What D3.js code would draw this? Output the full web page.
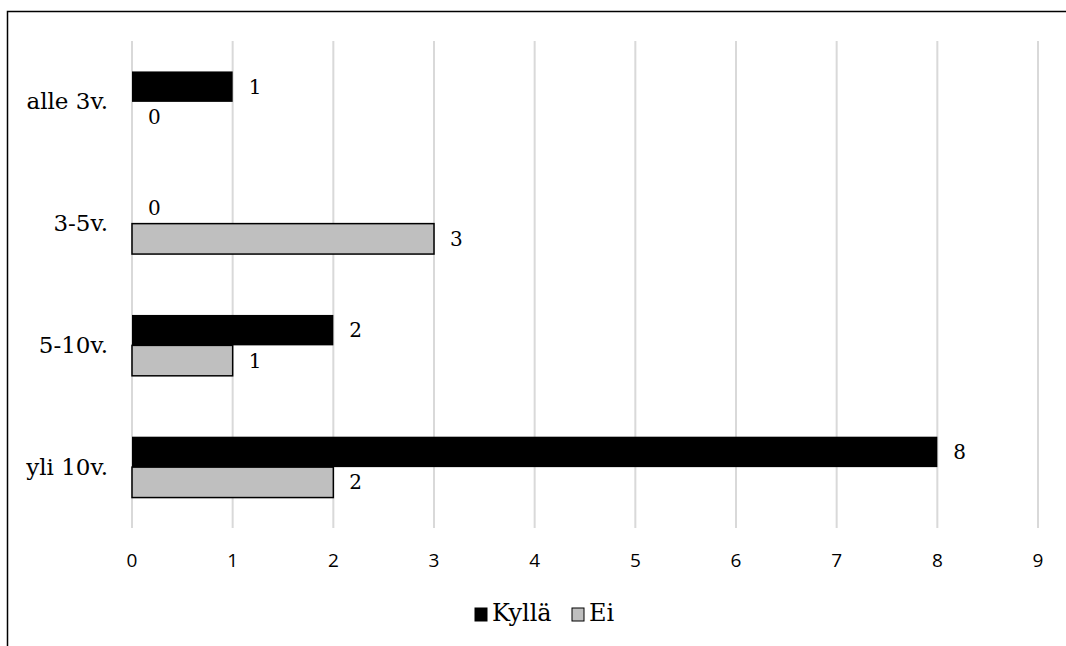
<!DOCTYPE html>
<html>
<head>
<meta charset="utf-8">
<script src="https://cdn.jsdelivr.net/npm/d3@7"></script>
<style>
  body { margin: 0; background: #fff; }
</style>
</head>
<body>
<div id="chart"></div>
<script>
const categories = ["alle 3v.", "3-5v.", "5-10v.", "yli 10v."];
const seriesNames = ["Kyllä", "Ei"];
const kylla = [1, 0, 2, 8];
const ei = [0, 3, 1, 2];
const ticks = [0, 1, 2, 3, 4, 5, 6, 7, 8, 9];

const width = 1066, height = 646;
const margin = { top: 41, left: 132, right: 28, bottom: 118 };
const serif = "'DejaVu Serif', Georgia, serif";
const sans = "'Open Sans', 'Liberation Sans', sans-serif";

const colors = { "Kyllä": "#000000", "Ei": "#bfbfbf" };

const svg = d3.select("#chart").append("svg")
    .attr("width", width)
    .attr("height", height);

// frame (only top and left edges visible in the crop)
svg.append("path")
    .attr("d", `M7.5,${height} V11.5 H${width}`)
    .attr("fill", "none")
    .attr("stroke", "#000")
    .attr("stroke-width", 1.5);

const x = d3.scaleLinear()
    .domain([0, 9])
    .range([margin.left, width - margin.right]);

const y = d3.scaleBand()
    .domain(categories)
    .range([margin.top, height - margin.bottom])
    .paddingInner(0.5)
    .paddingOuter(0.25);

const ySub = d3.scaleBand()
    .domain(seriesNames)
    .range([0, y.bandwidth()]);

// gridlines
svg.append("g").selectAll("line")
    .data(ticks)
    .enter().append("line")
    .attr("x1", d => x(d))
    .attr("x2", d => x(d))
    .attr("y1", margin.top)
    .attr("y2", height - margin.bottom)
    .attr("stroke", "#d9d9d9")
    .attr("stroke-width", 2);

// tick labels
svg.append("g").selectAll("text")
    .data(ticks)
    .enter().append("text")
    .attr("x", d => x(d))
    .attr("y", 567)
    .attr("text-anchor", "middle")
    .style("font-family", sans)
    .style("font-size", "19px")
    .attr("fill", "#000")
    .text(d => d);

// category labels
svg.append("g").selectAll("text")
    .data(categories)
    .enter().append("text")
    .attr("x", 108)
    .attr("y", d => y(d) + y.bandwidth() / 2)
    .attr("dy", "0.33em")
    .attr("text-anchor", "end")
    .style("font-family", serif)
    .style("font-size", "23px")
    .text(d => d);

const rows = [];
categories.forEach((c, i) => {
  rows.push({ cat: c, series: "Kyllä", value: kylla[i] });
  rows.push({ cat: c, series: "Ei", value: ei[i] });
});

const bars = svg.append("g").selectAll("g")
    .data(rows)
    .enter().append("g");

bars.filter(d => d.value > 0).append("rect")
    .attr("x", x(0))
    .attr("y", d => y(d.cat) + ySub(d.series))
    .attr("width", d => x(d.value) - x(0))
    .attr("height", ySub.bandwidth())
    .attr("fill", d => colors[d.series])
    .attr("stroke", d => d.series === "Ei" ? "#000" : "none")
    .attr("stroke-width", 1.5);

bars.append("text")
    .attr("x", d => x(d.value) + 16)
    .attr("y", d => y(d.cat) + ySub(d.series) + ySub.bandwidth() / 2)
    .attr("dy", "0.35em")
    .style("font-family", serif)
    .style("font-size", "20px")
    .text(d => d.value);

// legend
const legendItems = [
  { name: "Kyllä", x: 475 },
  { name: "Ei", x: 572 }
];
const legend = svg.append("g").selectAll("g")
    .data(legendItems)
    .enter().append("g")
    .attr("transform", d => `translate(${d.x},608)`);

legend.append("rect")
    .attr("width", 12)
    .attr("height", 13)
    .attr("fill", d => colors[d.name])
    .attr("stroke", "#000")
    .attr("stroke-width", 1);

legend.append("text")
    .attr("x", 17)
    .attr("y", 13)
    .style("font-family", serif)
    .style("font-size", "24px")
    .text(d => d.name);
</script>
</body>
</html>
